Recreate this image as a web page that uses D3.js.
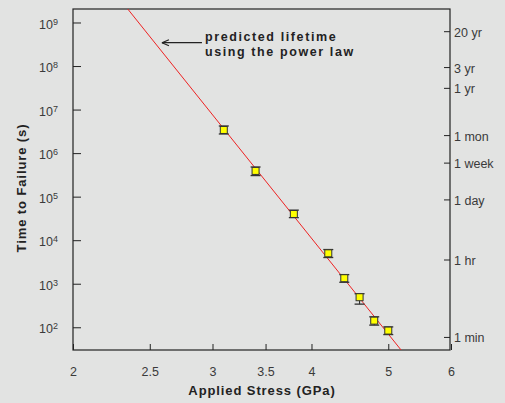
<!DOCTYPE html>
<html>
<head>
<meta charset="utf-8">
<script src="https://cdn.jsdelivr.net/npm/d3@7.9.0/dist/d3.min.js"></script>
<style>
  body { margin: 0; background: #e2e3e2; }
  svg { display: block; font-family: "Liberation Sans", Arial, sans-serif; }
  .tick text { fill: #3a3a3a; font-size: 12.5px; }
  .tick line { stroke: #222; }
</style>
</head>
<body>
<svg id="chart" width="505" height="403"></svg>
<script>
// measured points (stress in GPa, time to failure in seconds)
const stress = [3.1, 3.4, 3.8, 4.2, 4.4, 4.6, 4.8, 5.0];
const time = [3.4e6, 3.9e5, 4.0e4, 5.0e3, 1.34e3, 490, 142, 84];
const timeLow = [2.75e6, 3.05e5, 3.3e4, 4.0e3, 1.08e3, 340, 112, 68];
const timeHigh = [4.2e6, 4.8e5, 4.9e4, 6.1e3, 1.62e3, 590, 174, 102];

// power law fit, two end points
const fitStress = [2.345, 5.19];
const fitTime = [2.04e9, 30];

const xTicks = [2, 2.5, 3, 3.5, 4, 5, 6];
const yTicks = [1e2, 1e3, 1e4, 1e5, 1e6, 1e7, 1e8, 1e9];
const rightLabels = ['1 min', '1 hr', '1 day', '1 week', '1 mon', '1 yr', '3 yr', '20 yr'];
const rightSeconds = [60, 3600, 86400, 604800, 2592000, 31557600, 94672800, 631152000];

const mLeft = 73, mRight = 451, mTop = 9, mBottom = 350;

const svg = d3.select('#chart');

const x = d3.scaleLog().domain([2, 6]).range([mLeft, mRight]);
const y = d3.scaleLog().domain([Math.pow(10, 1.478), Math.pow(10, 9.31)]).range([mBottom, mTop]);

svg.append('clipPath').attr('id', 'clip')
  .append('rect')
  .attr('x', mLeft).attr('y', mTop)
  .attr('width', mRight - mLeft).attr('height', mBottom - mTop);

// bottom axis, ticks pointing up
const xAxis = svg.append('g')
  .attr('transform', `translate(0,${mBottom})`)
  .call(d3.axisBottom(x).tickValues(xTicks).tickFormat(d3.format('')).tickSizeInner(-6).tickSizeOuter(0).tickPadding(17));
xAxis.select('.domain').remove();

// left axis with superscript labels
const yAxis = svg.append('g')
  .attr('transform', `translate(${mLeft},0)`)
  .call(d3.axisLeft(y).tickValues(yTicks).tickFormat('').tickSizeInner(-8).tickSizeOuter(0));
yAxis.select('.domain').remove();
yAxis.selectAll('.tick').each(function(d) {
  const t = d3.select(this).append('text')
    .attr('x', -15).attr('dy', '0.45em')
    .attr('text-anchor', 'end');
  t.append('tspan').text('10');
  t.append('tspan').attr('dy', '-0.45em').attr('font-size', '9px').text(Math.round(Math.log10(d)));
});

// right axis in human time units
const rAxis = svg.append('g')
  .attr('transform', `translate(${mRight - 1},0)`)
  .call(d3.axisRight(y).tickValues(rightSeconds)
    .tickFormat((d, i) => rightLabels[i]).tickSizeInner(-6).tickSizeOuter(0).tickPadding(4));
rAxis.select('.domain').remove();
rAxis.selectAll('text').attr('dy', '0.4em');

// frame
svg.append('rect')
  .attr('x', mLeft).attr('y', mTop)
  .attr('width', mRight - 1 - mLeft).attr('height', mBottom - mTop)
  .attr('fill', 'none').attr('stroke', '#222').attr('stroke-width', 1.2);

// fitted line
svg.append('line')
  .attr('clip-path', 'url(#clip)')
  .attr('x1', x(fitStress[0])).attr('y1', y(fitTime[0]))
  .attr('x2', x(fitStress[1])).attr('y2', y(fitTime[1]))
  .attr('stroke', '#ee2222').attr('stroke-width', 1);

// error bars + markers
const pts = svg.append('g');
stress.forEach((s, i) => {
  const cx = x(s);
  pts.append('line')
    .attr('x1', cx).attr('x2', cx)
    .attr('y1', y(timeLow[i])).attr('y2', y(timeHigh[i]))
    .attr('stroke', '#222');
  [timeLow[i], timeHigh[i]].forEach(v => {
    pts.append('line')
      .attr('x1', cx - 5).attr('x2', cx + 5)
      .attr('y1', y(v)).attr('y2', y(v))
      .attr('stroke', '#333').attr('stroke-width', 1.3);
  });
  pts.append('rect')
    .attr('x', cx - 3.5).attr('y', y(time[i]) - 3.5)
    .attr('width', 7).attr('height', 7)
    .attr('fill', '#ffff00').attr('stroke', '#333').attr('stroke-width', 1);
});

// annotation
const ax = x(2.59), ay = y(Math.pow(10, 8.536));
const ann = svg.append('g').attr('stroke', '#222').attr('stroke-width', 1.2);
ann.append('line').attr('x1', ax).attr('y1', ay).attr('x2', ax + 40).attr('y2', ay);
ann.append('line').attr('x1', ax).attr('y1', ay).attr('x2', ax + 7).attr('y2', ay - 3);
ann.append('line').attr('x1', ax).attr('y1', ay).attr('x2', ax + 7).attr('y2', ay + 3);

const note = svg.append('text')
  .attr('x', ax + 43).attr('y', ay - 2)
  .attr('font-size', '12.5px').attr('font-weight', 'bold')
  .attr('letter-spacing', '1.6px').attr('fill', '#222');
note.append('tspan').attr('x', ax + 43).text('predicted lifetime');
note.append('tspan').attr('x', ax + 43).attr('dy', 15.5).text('using the power law');

// axis titles
svg.append('text')
  .attr('x', (mLeft + mRight) / 2).attr('y', 395)
  .attr('text-anchor', 'middle')
  .attr('font-size', '13px').attr('font-weight', 'bold')
  .attr('letter-spacing', '0.9px').attr('fill', '#222')
  .text('Applied Stress (GPa)');

svg.append('text')
  .attr('transform', 'translate(26,188) rotate(-90)')
  .attr('text-anchor', 'middle')
  .attr('font-size', '13px').attr('font-weight', 'bold')
  .attr('letter-spacing', '0.9px').attr('fill', '#222')
  .text('Time to Failure (s)');
</script>
</body>
</html>
